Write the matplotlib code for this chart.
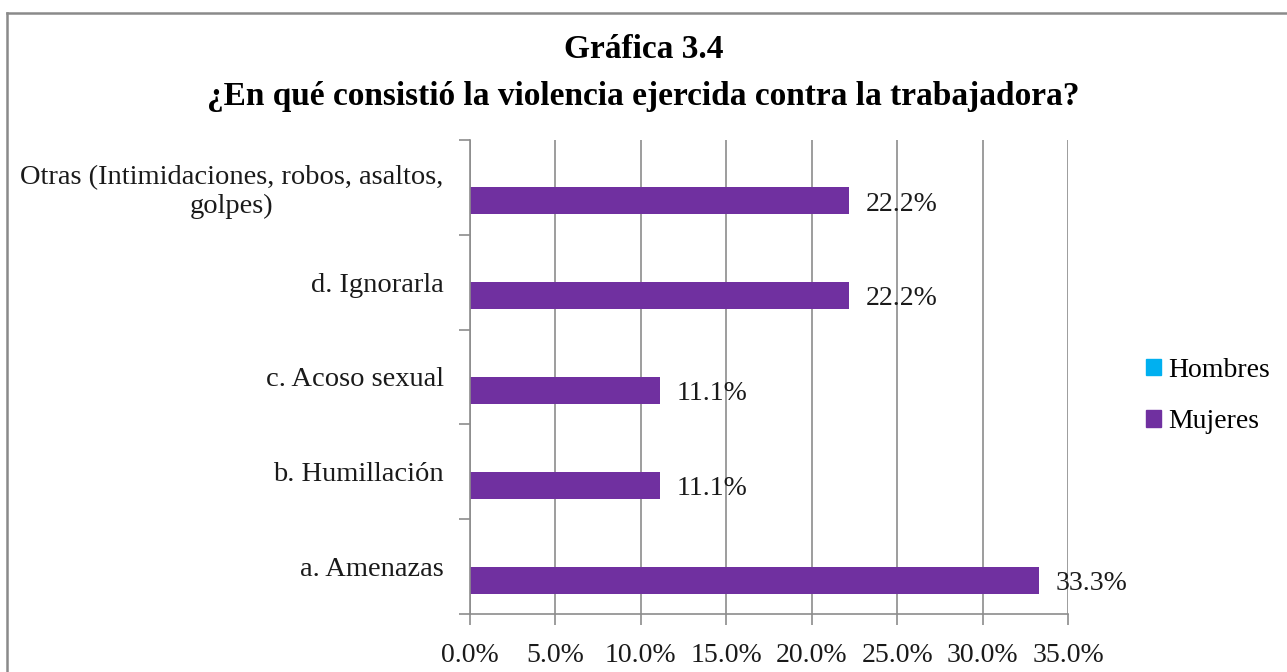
import matplotlib
matplotlib.use("Agg")
import matplotlib.pyplot as plt
from matplotlib.lines import Line2D
from matplotlib.patches import Patch

categories = ["a. Amenazas", "b. Humillación", "c. Acoso sexual", "d. Ignorarla",
              "Otras (Intimidaciones, robos, asaltos,\ngolpes)"]
hombres = [0, 0, 0, 0, 0]
mujeres = [33.3, 11.1, 11.1, 22.2, 22.2]
xticks = [0, 5, 10, 15, 20, 25, 30, 35]
title = "Gráfica 3.4\n¿En qué consistió la violencia ejercida contra la trabajadora?"

FONT = "Liberation Serif"
purple = "#7030A0"
cyan = "#00B0F0"
grid = "#8c8c8c"
txt = "#1a1a1a"

W, H = 1287, 672
fig = plt.figure(figsize=(W / 100, H / 100), dpi=100)
ax = fig.add_axes([470 / W, 1 - 614 / H, (1068 - 470) / W, (614 - 140) / H])

bh = 0.284
ypos = list(range(len(categories)))
ax.barh([y + bh / 2 for y in ypos], hombres, height=bh, color=cyan, label="Hombres")
ax.barh([y - bh / 2 for y in ypos], mujeres, height=bh, color=purple, label="Mujeres")

for y, v in zip(ypos, mujeres):
    ax.annotate(f"{v:.1f}%", xy=(v, y - bh / 2 - 0.035), xytext=(12, 0),
                textcoords="offset points", va="center", ha="left",
                fontsize=20, family=FONT, color=txt)

ax.set_xlim(0, 35)
ax.set_ylim(-0.5, len(categories) - 0.5)
ax.set_xticks(xticks)
ax.set_xticklabels([f"{t:.1f}%" for t in xticks], fontsize=20, family=FONT, color=txt)
ax.set_yticks(ypos)
ax.set_yticklabels(categories, fontsize=20.5, family=FONT, color=txt,
                   multialignment="center")
ax.tick_params(axis="y", length=0, pad=19)
ax.set_yticks([y - 0.5 for y in ypos] + [len(categories) - 0.5], minor=True)
ax.tick_params(axis="y", which="minor", length=8, color=grid, width=1.2)
ax.tick_params(axis="x", length=8, color=grid, width=1.2, pad=13)

ax.xaxis.grid(True, color=grid, linewidth=1.2)
ax.set_axisbelow(True)
for s in ["top", "right"]:
    ax.spines[s].set_visible(False)
for s in ["left", "bottom"]:
    ax.spines[s].set_color(grid)
    ax.spines[s].set_linewidth(1.2)

handles = [Patch(color=cyan), Patch(color=purple)]
fig.legend(handles, ["Hombres", "Mujeres"], loc="center left",
           bbox_to_anchor=(1135 / W, 1 - 396 / H), frameon=False,
           prop={"family": FONT, "size": 20}, handlelength=0.55, handleheight=0.55,
           handletextpad=0.25, labelspacing=0.95, borderaxespad=0)

fig.text(0.5, 1 - 73 / H, title, ha="center", va="center", fontsize=24,
         fontweight="bold", family=FONT, linespacing=1.68)

fig.add_artist(Line2D([7 / W, 7 / W], [0, 1 - 13 / H], transform=fig.transFigure,
                      color="#8a8a8a", linewidth=1.8))
fig.add_artist(Line2D([7 / W, 1], [1 - 13 / H, 1 - 13 / H], transform=fig.transFigure,
                      color="#8a8a8a", linewidth=1.8))

fig.savefig("out.png", dpi=100)
